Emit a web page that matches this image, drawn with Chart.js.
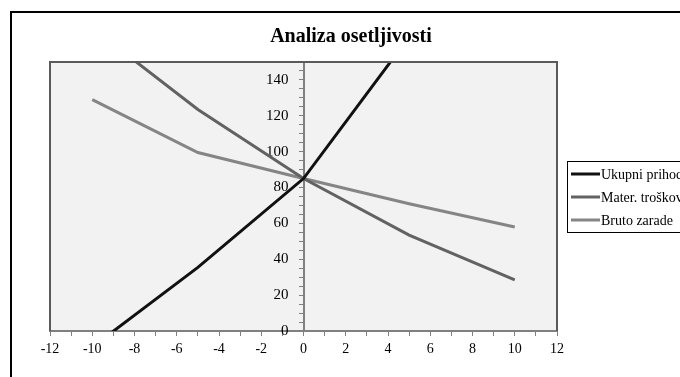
<!DOCTYPE html>
<html>
<head>
<meta charset="utf-8">
<script src="https://cdn.jsdelivr.net/npm/chart.js@4/dist/chart.umd.min.js"></script>
<style>
  html, body { margin: 0; padding: 0; background: #fff; }
  #wrap { width: 680px; height: 377px; position: relative; overflow: hidden; }
</style>
</head>
<body>
<div id="wrap"><canvas id="chart" width="680" height="377"></canvas></div>
<script>
// data
const title = 'Analiza osetljivosti'
const xValues = [-10, -5, 0, 5, 10]
const ukupniPrihod = [-9, 35.5, 85, 164, 245]
const materTroskovi = [169, 123.5, 85, 53.5, 28.5]
const brutoZarade = [129, 99.5, 85, 71, 58]
const seriesNames = ['Ukupni prihod', 'Mater. troškovi', 'Bruto zarade']
const seriesColors = ['#111111', '#626262', '#858585']

const serif = '"Liberation Serif", "Times New Roman", serif'

function toPoints(ys) {
    return xValues.map((x, i) => ({ x: x, y: ys[i] }))
}

// background, plot frame, title and the boxed legend
const decor = {
    id: 'decor',
    beforeDraw(chart) {
        const ctx = chart.ctx
        const a = chart.chartArea
        ctx.save()
        ctx.fillStyle = '#fff'
        ctx.fillRect(0, 0, chart.width, chart.height)
        ctx.strokeStyle = '#000'
        ctx.lineWidth = 2
        ctx.strokeRect(11, 12, 900, 600)
        ctx.fillStyle = '#f2f2f2'
        ctx.fillRect(a.left, a.top, a.right - a.left, a.bottom - a.top)
        ctx.restore()
    },
    afterDraw(chart) {
        const ctx = chart.ctx
        const a = chart.chartArea
        ctx.save()
        ctx.strokeStyle = '#5a5a5a'
        ctx.lineWidth = 2
        ctx.beginPath()
        ctx.moveTo(a.left, a.bottom)
        ctx.lineTo(a.left, a.top)
        ctx.lineTo(a.right, a.top)
        ctx.lineTo(a.right, a.bottom)
        ctx.stroke()

        ctx.fillStyle = '#000'
        ctx.font = 'bold 20px ' + serif
        ctx.textAlign = 'center'
        ctx.textBaseline = 'middle'
        ctx.fillText(title, 351, 37)

        // legend
        ctx.strokeStyle = '#000'
        ctx.lineWidth = 1
        ctx.strokeRect(567.5, 161.5, 200, 71)
        ctx.font = '14px ' + serif
        ctx.textAlign = 'left'
        chart.data.datasets.forEach((ds, i) => {
            const y = 174 + i * 23
            ctx.strokeStyle = ds.borderColor
            ctx.lineWidth = 3
            ctx.beginPath()
            ctx.moveTo(571, y)
            ctx.lineTo(600, y)
            ctx.stroke()
            ctx.fillStyle = '#000'
            ctx.fillText(ds.label, 601, y + 1)
        })
        ctx.restore()
    }
}

const datasets = [ukupniPrihod, materTroskovi, brutoZarade].map((ys, i) => ({
    label: seriesNames[i],
    data: toPoints(ys),
    borderColor: seriesColors[i],
    borderWidth: 3,
    pointRadius: 0,
    tension: 0,
    fill: false
}))

new Chart(document.getElementById('chart'), {
    type: 'line',
    data: { datasets: datasets },
    options: {
        responsive: false,
        animation: false,
        layout: { padding: { left: 50, right: 123, top: 62, bottom: 46 } },
        plugins: {
            legend: { display: false },
            title: { display: false },
            tooltip: { enabled: false }
        },
        scales: {
            x: {
                type: 'linear',
                min: -12,
                max: 12,
                position: { y: 0 },
                grid: { drawOnChartArea: false, tickLength: 4, color: '#808080', lineWidth: 1 },
                border: { color: '#808080', width: 2 },
                ticks: {
                    stepSize: 1,
                    autoSkip: false,
                    maxRotation: 0,
                    padding: 6,
                    color: '#000',
                    font: { family: serif, size: 14 },
                    callback: v => (v % 2 === 0 ? String(v) : '')
                }
            },
            y: {
                min: 0,
                max: 150,
                position: { x: 0 },
                grid: { drawOnChartArea: false, tickLength: 4, color: '#808080', lineWidth: 1 },
                border: { color: '#808080', width: 2 },
                ticks: {
                    stepSize: 5,
                    autoSkip: false,
                    color: '#000',
                    font: { family: serif, size: 15 },
                    // labels sit right on the axis when it is placed at x=0, so pad them
                    callback: v => (v % 20 === 0 ? String(v) + '    ' : '')
                }
            }
        }
    },
    plugins: [decor]
})
</script>
</body>
</html>
